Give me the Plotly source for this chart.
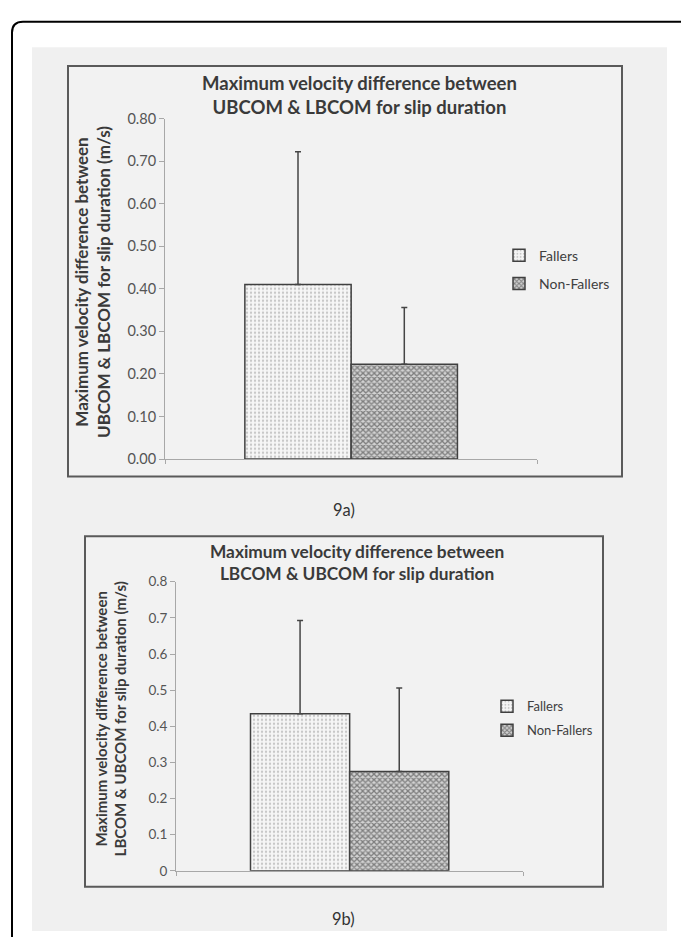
import plotly.graph_objects as go

W, H = 681, 939

# ---------------- data ----------------
groups = ["Fallers", "Non-Fallers"]
category = [""]

a_means = [0.41, 0.223]
a_err = [0.312, 0.133]

b_means = [0.435, 0.275]
b_err = [0.258, 0.231]

a_title = "Maximum velocity difference between<br>UBCOM & LBCOM for slip duration"
a_ytitle = "Maximum velocity difference between<br>UBCOM & LBCOM for slip duration (m/s)"
b_title = "Maximum velocity difference between<br>LBCOM & UBCOM for slip duration"
b_ytitle = "Maximum velocity difference between<br>LBCOM & UBCOM for slip duration (m/s)"
a_caption = "9a)"
b_caption = "9b)"

a_ticks = [0, 0.1, 0.2, 0.3, 0.4, 0.5, 0.6, 0.7, 0.8]
a_ticktext = ["0.00", "0.10", "0.20", "0.30", "0.40", "0.50", "0.60", "0.70", "0.80"]
b_ticks = [0, 0.1, 0.2, 0.3, 0.4, 0.5, 0.6, 0.7, 0.8]
b_ticktext = ["0", "0.1", "0.2", "0.3", "0.4", "0.5", "0.6", "0.7", "0.8"]

FONT = "Lato, 'Open Sans', sans-serif"

def px(x):
    return x / W

def py(y):
    return 1 - y / H

patterns = [
    dict(shape=".", fgcolor="#9a9a9a", bgcolor="#f6f6f6", size=4, solidity=0.28),
    dict(shape="x", fgcolor="#2a2a2a", bgcolor="#d2d2d2", size=4, solidity=0.55),
]

fig = go.Figure()

for i, g in enumerate(groups):
    fig.add_trace(go.Bar(
        x=category, y=[a_means[i]], name=g,
        xaxis="x", yaxis="y", legend="legend", legendgroup="a" + g,
        marker=dict(color="#f4f4f4", pattern=patterns[i],
                    line=dict(color="#404040", width=1.5)),
        error_y=dict(type="data", array=[a_err[i]], arrayminus=[0], symmetric=False,
                     color="#454545", thickness=1.5, width=3),
    ))
for i, g in enumerate(groups):
    fig.add_trace(go.Bar(
        x=category, y=[b_means[i]], name=g,
        xaxis="x2", yaxis="y2", legend="legend2", legendgroup="b" + g,
        marker=dict(color="#f4f4f4", pattern=patterns[i],
                    line=dict(color="#404040", width=1.5)),
        error_y=dict(type="data", array=[b_err[i]], arrayminus=[0], symmetric=False,
                     color="#454545", thickness=1.5, width=3),
    ))

axis_common = dict(showline=True, linecolor="#a8a8a8", linewidth=1, showgrid=False,
                   zeroline=False, ticks="outside", tickcolor="#a8a8a8", ticklen=5)

shapes = []
# scanned page background
shapes.append(dict(type="rect", xref="paper", yref="paper", layer="below",
                   x0=px(32), x1=px(667), y0=py(939), y1=py(39),
                   fillcolor="#f0f0f0", line=dict(width=0)))
# chart frames
shapes.append(dict(type="rect", xref="paper", yref="paper", layer="below",
                   x0=px(68), x1=px(622), y0=py(476), y1=py(58),
                   fillcolor="#f2f2f2", line=dict(color="#5a5a5a", width=2)))
shapes.append(dict(type="rect", xref="paper", yref="paper", layer="below",
                   x0=px(85), x1=px(603), y0=py(894), y1=py(537),
                   fillcolor="#f2f2f2", line=dict(color="#5a5a5a", width=2)))
# page border with rounded corner
path = "M {a},{b} L {c},{d} Q {e},{f} {g},{h} L {i},{j}".format(
    a=px(12), b=py(945), c=px(12), d=py(24), e=px(12), f=py(13),
    g=px(23), h=py(13), i=px(690), j=py(13))
shapes.append(dict(type="path", xref="paper", yref="paper", path=path,
                   line=dict(color="#000000", width=2)))

annotations = []
def ann(text, x, y, size, bold=False, angle=0, color="#333333"):
    annotations.append(dict(
        text=("<b>%s</b>" % text) if bold else text, xref="paper", yref="paper",
        x=px(x), y=py(y), xanchor="center", yanchor="middle", showarrow=False,
        textangle=angle, font=dict(family=FONT, size=size, color=color)))

ann(a_title, 359, 88, 18.5, bold=True, color="#3a3a3a")
ann(a_ytitle, 93, 278, 17, bold=True, angle=-90, color="#3a3a3a")
ann(b_title, 357, 563.5, 17.3, bold=True, color="#3a3a3a")
ann(b_ytitle, 110.5, 723, 15, bold=True, angle=-90, color="#3a3a3a")
ann(a_caption, 344, 510, 16.5)
ann(b_caption, 343, 927, 16.5)

fig.update_layout(
    width=W, height=H,
    margin=dict(l=0, r=0, t=0, b=0),
    paper_bgcolor="#ffffff", plot_bgcolor="rgba(0,0,0,0)",
    font=dict(family=FONT, color="#555555"),
    barmode="group", bargap=0.429, bargroupgap=0,
    xaxis=dict(domain=[px(165), px(537.3)], anchor="y", range=[-0.5, 0.5],
               showticklabels=False, **axis_common),
    yaxis=dict(domain=[py(458.3), py(111.7)], anchor="x", range=[0, 0.8],
               tickvals=a_ticks, ticktext=a_ticktext,
               tickfont=dict(family=FONT, size=14.5, color="#555555"), **axis_common),
    xaxis2=dict(domain=[px(176), px(523.3)], anchor="y2", range=[-0.5, 0.5],
                showticklabels=False, **axis_common),
    yaxis2=dict(domain=[py(877.7), py(583.3)], anchor="x2", range=[0, 0.8],
                tickvals=b_ticks, ticktext=b_ticktext,
                tickfont=dict(family=FONT, size=13.5, color="#555555"), **axis_common),
    legend=dict(x=px(499), y=py(235), xanchor="left", yanchor="top",
                bgcolor="rgba(0,0,0,0)", tracegroupgap=7, traceorder="grouped",
                font=dict(family=FONT, size=14, color="#404040"), itemwidth=30),
    legend2=dict(x=px(487), y=py(695), xanchor="left", yanchor="top",
                 bgcolor="rgba(0,0,0,0)", tracegroupgap=4, traceorder="grouped",
                 font=dict(family=FONT, size=13, color="#404040"), itemwidth=30),
    shapes=shapes, annotations=annotations,
)
fig.update_xaxes(tickvals=[-0.5, 0.5], ticklen=4)

fig.write_html("out.html")
